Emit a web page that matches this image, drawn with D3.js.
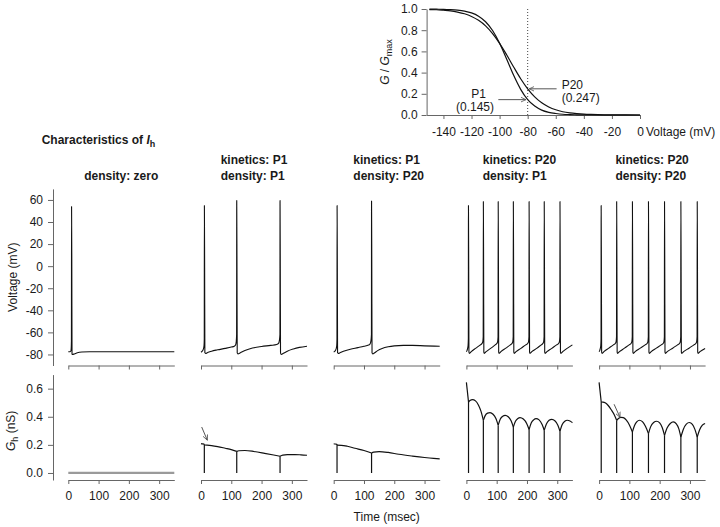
<!DOCTYPE html>
<html><head><meta charset="utf-8">
<script src="https://cdn.jsdelivr.net/npm/d3@7"></script>
<style>
html,body{margin:0;padding:0;background:#fff;}
svg{display:block;font-family:Arial,"Liberation Sans",Helvetica,sans-serif;}
</style></head>
<body>
<svg id="chart" width="720" height="527"></svg>
<script>
// ---------------- DATA ----------------
const colKinetics = [null, "kinetics: P1", "kinetics: P1", "kinetics: P20", "kinetics: P20"];
const colDensity  = ["density: zero", "density: P1", "density: P20", "density: P1", "density: P20"];
const timeTicks = [0, 100, 200, 300];
const voltTicks = [-80, -60, -40, -20, 0, 20, 40, 60];
const ghTicks = [0, 0.2, 0.4, 0.6];
const insetVTicks = [-140, -120, -100, -80, -60, -40, -20, 0];
const insetGTicks = [0, 0.2, 0.4, 0.6, 0.8, 1.0];

// inset activation curves
const actV  = [-150,-145,-140,-135,-130,-125,-120,-115,-110,-105,-100,-95,-90,-85,-80,-75,-70,-65,-60,-55,-50,-45,-40,-35,-30,-20,-10,0];
const gP1   = [0.999,0.998,0.997,0.994,0.989,0.980,0.963,0.932,0.880,0.797,0.677,0.528,0.374,0.242,0.145,0.084,0.046,0.025,0.014,0.007,0.004,0.002,0.001,0.001,0.000,0,0,0];
const gP20  = [0.995,0.993,0.988,0.982,0.971,0.955,0.930,0.893,0.841,0.768,0.676,0.568,0.453,0.342,0.247,0.171,0.115,0.076,0.049,0.031,0.020,0.013,0.008,0.005,0.003,0.001,0.0005,0.0002];

// voltage traces [time ms, mV]
const volt1 = [[0,-77.5],[8,-77.3],[9.5,-75],[10.3,-68],[10.8,54],[11.6,0],[12.3,-79.5],[14,-80],[20,-79.5],[30,-78.5],[45,-77.8],[70,-77.5],[350,-77.5]];
const volt2 = [[0,-78],[4,-77],[8,-75],[10,-72],[10.8,-66],[11.2,55],[12,0],[12.8,-78.5],[15,-79],[22,-78.3],[35,-77],[55,-75.8],[80,-74.5],[100,-73.3],[110,-72.5],[114,-71.5],[116.5,-68],[117.6,-62],[118,59.5],[118.8,0],[119.6,-78.5],[122,-79.5],[130,-78.5],[145,-76.5],[170,-74.2],[200,-72.8],[230,-71.8],[250,-71],[256,-70],[259,-67],[260.6,-62],[261,59.5],[261.8,0],[262.6,-78.5],[265,-80],[272,-79],[285,-77],[305,-75],[325,-73.6],[350,-72.5]];
const volt3 = [[0,-77.8],[4,-77],[8,-75],[10,-72],[10.8,-66],[11.2,55],[12,0],[12.8,-78.5],[15,-79],[22,-78.3],[35,-76.8],[55,-75.2],[80,-73.8],[100,-72.6],[115,-71.5],[120,-70.5],[123,-67.5],[124.6,-62],[125,59],[125.8,0],[126.6,-78.5],[129,-79.5],[135,-78.5],[145,-76.5],[160,-74.5],[180,-73],[200,-72.2],[230,-71.8],[260,-71.8],[300,-72.2],[350,-72.6]];
const volt4 = [[0,-77.5],[2,-76.5],[4,-74.5],[5.5,-72],[6.4,-66],[6.8,55],[7.6,0],[8.4,-78],[10,-79],[16,-77.5],[30,-74.5],[45,-71.5],[51,-70.2],[54,-68.5],[55.5,-64],[56,58.5],[56.8,0],[57.6,-78],[59,-79],[65,-77.5],[80,-74.5],[95,-71.3],[100,-70.2],[103,-68.5],[104.5,-64],[105,58.5],[105.8,0],[106.6,-78],[108,-79],[114,-77.5],[130,-74.3],[145,-71.3],[150,-70.2],[153,-68.5],[154.5,-64],[155,58.5],[155.8,0],[156.6,-78],[158,-79],[164,-77.5],[180,-74.5],[196,-71.3],[202,-70.2],[205,-68.5],[206.5,-64],[207,58.5],[207.8,0],[208.6,-78],[210,-79],[216,-77.5],[232,-74.5],[246,-71.5],[252,-70.2],[255,-68.5],[256.5,-64],[257,58.5],[257.8,0],[258.6,-78],[260,-79],[266,-77.5],[282,-74.5],[298,-71.3],[304,-70.2],[307,-68.5],[308.5,-64],[309,58.5],[309.8,0],[310.6,-78],[312,-79],[318,-77.5],[335,-74],[350,-71.3]];
const volt5 = [[0,-77.5],[2,-76.5],[4,-74.5],[5.5,-72],[6.4,-66],[6.8,55],[7.6,0],[8.4,-78],[10,-79],[16,-77.5],[32,-74.3],[47,-71.3],[53,-70.2],[56,-68.5],[57.5,-64],[58,58.5],[58.8,0],[59.6,-78],[61,-79],[67,-77.5],[84,-74.3],[99,-71.3],[105,-70.2],[108,-68.5],[109.5,-64],[110,58.5],[110.8,0],[111.6,-78],[113,-79],[119,-77.5],[136,-74.3],[152,-71.3],[158,-70.2],[161,-68.5],[162.5,-64],[163,58.5],[163.8,0],[164.6,-78],[166,-79],[172,-77.5],[189,-74.3],[205,-71.3],[211,-70.2],[214,-68.5],[215.5,-64],[216,58.5],[216.8,0],[217.6,-78],[219,-79],[225,-77.5],[243,-74.3],[259,-71.3],[265,-70.2],[268,-68.5],[269.5,-64],[270,58.5],[270.8,0],[271.6,-78],[273,-79],[279,-77.5],[297,-74.3],[313,-71.3],[319,-70.2],[322,-68.5],[323.5,-64],[324,58.5],[324.8,0],[325.6,-78],[327,-79],[333,-77.5],[350,-74.5]];

// Gh traces [time ms, nS], segments split at spikes (conductance drops to 0 at each spike)
const gh1 = [[[0,0],[350,0]]];
const gh2 = [
 [[0,0.209],[5,0.207],[11,0.205]],
 [[11,0.199],[20,0.198],[35,0.195],[55,0.188],[80,0.176],[100,0.166],[118,0.154]],
 [[118,0.154],[125,0.158],[145,0.16],[175,0.153],[210,0.14],[240,0.128],[261,0.119]],
 [[261,0.119],[270,0.127],[285,0.131],[310,0.131],[330,0.129],[350,0.126]]
];
const gh3 = [
 [[0,0.208],[5,0.206],[11,0.204]],
 [[11,0.198],[25,0.197],[45,0.19],[70,0.176],[100,0.16],[125,0.142]],
 [[125,0.142],[132,0.149],[150,0.152],[180,0.146],[215,0.133],[260,0.12],[300,0.11],[330,0.104],[350,0.101]]
];
const gh4 = [
 [[0,0.645],[2.5,0.595],[5,0.545],[7,0.505]],
 [[7,0.505],[12,0.516],[20,0.522],[30,0.513],[40,0.482],[48,0.44],[56,0.375]],
 [[56,0.375],[62,0.408],[70,0.426],[78,0.43],[88,0.418],[97,0.39],[105,0.34]],
 [[105,0.34],[112,0.384],[120,0.404],[128,0.41],[138,0.4],[148,0.37],[155,0.327]],
 [[155,0.327],[162,0.368],[170,0.388],[177,0.394],[188,0.384],[199,0.352],[207,0.309]],
 [[207,0.309],[214,0.355],[222,0.378],[230,0.387],[240,0.378],[250,0.345],[257,0.304]],
 [[257,0.304],[265,0.352],[273,0.375],[282,0.382],[292,0.372],[302,0.34],[309,0.297]],
 [[309,0.297],[316,0.343],[325,0.368],[333,0.375],[342,0.37],[350,0.358]]
];
const gh5 = [
 [[0,0.645],[2.5,0.595],[5,0.545],[7,0.505]],
 [[7,0.505],[13,0.504],[20,0.499],[30,0.48],[40,0.45],[50,0.415],[58,0.375]],
 [[58,0.375],[64,0.388],[72,0.396],[80,0.394],[90,0.376],[100,0.342],[110,0.292]],
 [[110,0.292],[117,0.338],[125,0.365],[133,0.375],[143,0.365],[153,0.332],[163,0.28]],
 [[163,0.28],[170,0.328],[180,0.359],[190,0.368],[200,0.356],[208,0.326],[216,0.268]],
 [[216,0.268],[224,0.318],[235,0.352],[245,0.363],[255,0.35],[263,0.316],[270,0.256]],
 [[270,0.256],[278,0.31],[288,0.348],[298,0.359],[308,0.346],[316,0.312],[324,0.256]],
 [[324,0.256],[332,0.308],[341,0.34],[350,0.352]]
];
const voltTraces = [volt1, volt2, volt3, volt4, volt5];
const ghTraces = [gh1, gh2, gh3, gh4, gh5];
// Gh annotation arrows [t0,g0,t1,g1] per column (null = none)
const ghArrows = [null, [2.3,0.327,20.8,0.233], null, null, [49.5,0.489,69,0.396]];

// ---------------- DRAW ----------------
const svg = d3.select("#chart");
const FONT = 'Arial,"Liberation Sans",Helvetica,sans-serif';
const AX = "#666", TXT = "#1a1a1a", TRACE = "#111";
const hyph = d => String(d);           // plain hyphen-minus like the reference
const oneDec = d => d.toFixed(1);

svg.append("defs").append("marker")
  .attr("id","arr").attr("viewBox","0 0 8 8").attr("refX",7).attr("refY",4)
  .attr("markerWidth",6).attr("markerHeight",6).attr("orient","auto-start-reverse")
  .attr("markerUnits","userSpaceOnUse")
  .append("path").attr("d","M0,0.8 L7,4 L0,7.2").attr("fill","none").attr("stroke","#555").attr("stroke-width",1.1);

function styleAxis(g){
  g.attr("font-family", FONT).attr("font-size", 12);
  g.select(".domain").attr("stroke", AX).attr("stroke-width", 1);
  g.selectAll(".tick line").attr("stroke", AX).attr("stroke-width", 1);
  g.selectAll(".tick text").attr("fill", TXT);
}

// ----- Inset -----
const xI = d3.scaleLinear().domain([-152, 0]).range([426.6, 640]);
const yI = d3.scaleLinear().domain([0, 1]).range([115, 9]);
svg.append("g").attr("transform","translate(0,115)")
  .call(d3.axisBottom(xI).tickValues(insetVTicks).tickSize(4).tickSizeOuter(0).tickPadding(8).tickFormat(hyph))
  .call(styleAxis);
svg.append("g").attr("transform","translate(426.6,0)")
  .call(d3.axisLeft(yI).tickValues(insetGTicks).tickSize(5).tickSizeOuter(0).tickPadding(4).tickFormat(oneDec))
  .call(styleAxis);
svg.append("line").attr("x1",xI(-80)).attr("x2",xI(-80)).attr("y1",yI(0)).attr("y2",yI(1))
  .attr("stroke","#444").attr("stroke-width",1).attr("stroke-dasharray","1,2");
const lineI = d3.line().x(d=>xI(d[0])).y(d=>yI(d[1])).curve(d3.curveMonotoneX);
[gP1, gP20].forEach(arr=>{
  svg.append("path").datum(actV.map((v,i)=>[v,arr[i]]))
    .attr("d", lineI).attr("fill","none").attr("stroke",TRACE).attr("stroke-width",1.2);
});
svg.append("text").attr("x",646).attr("y",136).attr("font-family",FONT).attr("font-size",12).attr("fill",TXT).text("Voltage (mV)");
const yl = svg.append("text").attr("transform","translate(389,62) rotate(-90)").attr("text-anchor","middle")
  .attr("font-family",FONT).attr("font-size",12).attr("fill",TXT);
yl.append("tspan").attr("font-style","italic").text("G");
yl.append("tspan").text(" / ");
yl.append("tspan").attr("font-style","italic").text("G");
yl.append("tspan").attr("font-size",9).attr("dy",3).text("max");
// annotations
function annot(txt,x,y,anchor){
  svg.append("text").attr("x",x).attr("y",y).attr("text-anchor",anchor)
    .attr("font-family",FONT).attr("font-size",12).attr("fill",TXT).text(txt);
}
annot("P1", xI(-115), 97.5, "middle");
annot("(0.145)", xI(-117.5), 111, "middle");
annot("P20", xI(-55.8), 88.5, "start");
annot("(0.247)", xI(-55.8), 102, "start");
function arrow(x1,y1,x2,y2){
  svg.append("line").attr("x1",x1).attr("y1",y1).attr("x2",x2).attr("y2",y2)
    .attr("stroke","#555").attr("stroke-width",1).attr("marker-end","url(#arr)");
}
arrow(xI(-100.9), yI(0.145), xI(-81.2), yI(0.145));
arrow(xI(-59.4), yI(0.247), xI(-78.9), yI(0.247));

// ----- Main panels -----
const yV = d3.scaleLinear().domain([-90, 70]).range([365.5, 188.9]);
const yG = d3.scaleLinear().domain([-0.05, 0.7]).range([480, 374.6]);
const colX0 = 68.3, colStep = 132.7, colW = 106;

// left axes
svg.append("g").attr("transform","translate(53,0)")
  .call(d3.axisLeft(yV).tickValues(voltTicks).tickSize(5).tickSizeOuter(0).tickPadding(5).tickFormat(hyph))
  .call(styleAxis);
svg.append("g").attr("transform","translate(53,0)")
  .call(d3.axisLeft(yG).tickValues(ghTicks).tickSize(5).tickSizeOuter(0).tickPadding(5).tickFormat(oneDec))
  .call(styleAxis);
svg.append("text").attr("transform",`translate(17,${(yV(70)+yV(-90))/2}) rotate(-90)`).attr("text-anchor","middle")
  .attr("font-family",FONT).attr("font-size",12).attr("fill",TXT).text("Voltage (mV)");
const gl = svg.append("text").attr("transform",`translate(15,${yG(0.3)}) rotate(-90)`).attr("text-anchor","middle")
  .attr("font-family",FONT).attr("font-size",12).attr("fill",TXT);
gl.append("tspan").attr("font-style","italic").text("G");
gl.append("tspan").attr("font-size",9).attr("dy",3).text("h");
gl.append("tspan").attr("dy",-3).text(" (nS)");

// title
const tt = svg.append("text").attr("x",41.7).attr("y",144).attr("font-family",FONT).attr("font-size",12)
  .attr("font-weight","bold").attr("fill",TXT);
tt.append("tspan").text("Characteristics of ");
tt.append("tspan").attr("font-style","italic").text("I");
tt.append("tspan").attr("font-size",9).attr("dy",3).text("h");

for (let c = 0; c < 5; c++) {
  const x0 = colX0 + c*colStep;
  const xS = d3.scaleLinear().domain([0, 350]).range([x0, x0 + colW]);
  const cx = x0 + colW/2;
  // headers
  if (colKinetics[c]) {
    const t1 = svg.append("text").attr("y",163.5).attr("font-family",FONT).attr("font-size",12)
      .attr("font-weight","bold").attr("fill",TXT).text(colKinetics[c]);
    const w = t1.node().getComputedTextLength();
    t1.attr("x", cx - w/2);
    svg.append("text").attr("x", cx - w/2).attr("y",179.5).attr("font-family",FONT).attr("font-size",12)
      .attr("font-weight","bold").attr("fill",TXT).text(colDensity[c]);
  } else {
    svg.append("text").attr("x",cx).attr("y",179.5).attr("text-anchor","middle").attr("font-family",FONT)
      .attr("font-size",12).attr("font-weight","bold").attr("fill",TXT).text(colDensity[c]);
  }
  // x axes
  svg.append("g").attr("transform",`translate(0,${yV(-90)})`)
    .call(d3.axisBottom(xS).tickValues(timeTicks).tickSize(4).tickSizeOuter(0).tickFormat(""))
    .call(styleAxis);
  svg.append("g").attr("transform",`translate(0,${yG(-0.05)})`)
    .call(d3.axisBottom(xS).tickValues(timeTicks).tickSize(4).tickSizeOuter(0).tickPadding(7).tickFormat(hyph))
    .call(styleAxis);
  // voltage trace
  const lineV = d3.line().x(d=>xS(d[0])).y(d=>yV(d[1])).curve(d3.curveMonotoneX);
  svg.append("path").datum(voltTraces[c]).attr("d", lineV).attr("fill","none")
    .attr("stroke",TRACE).attr("stroke-width",1.1).attr("stroke-linejoin","round");
  // Gh trace
  const lineG = d3.line().x(d=>xS(d[0])).y(d=>yG(d[1])).curve(d3.curveMonotoneX);
  const segs = ghTraces[c];
  const isZero = c === 0;
  segs.forEach((seg, i) => {
    svg.append("path").datum(seg).attr("d", lineG).attr("fill","none")
      .attr("stroke", isZero ? "#9a9a9a" : TRACE).attr("stroke-width", isZero ? 2.2 : 1.2);
    if (i > 0) {
      const t = seg[0][0];
      const top = Math.max(seg[0][1], segs[i-1][segs[i-1].length-1][1]);
      svg.append("line").attr("x1",xS(t)).attr("x2",xS(t)).attr("y1",yG(top)).attr("y2",yG(0))
        .attr("stroke",TRACE).attr("stroke-width",1.2);
    }
  });
  if (ghArrows[c]) {
    const a = ghArrows[c];
    arrow(xS(a[0]), yG(a[1]), xS(a[2]), yG(a[3]));
  }
}
svg.append("text").attr("x", colX0 + 2*colStep + colW/2).attr("y",521).attr("text-anchor","middle")
  .attr("font-family",FONT).attr("font-size",12).attr("fill",TXT).text("Time (msec)");
</script>
</body></html>
